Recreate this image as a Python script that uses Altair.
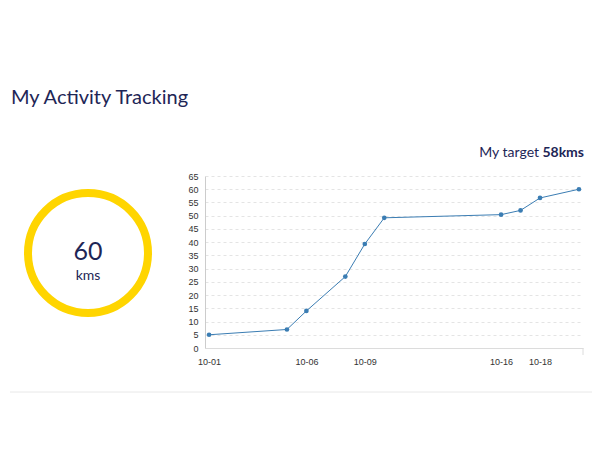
import altair as alt
import pandas as pd

# ---- data ----
dates = ["2023-10-01", "2023-10-05", "2023-10-06", "2023-10-08", "2023-10-09",
         "2023-10-10", "2023-10-16", "2023-10-17", "2023-10-18", "2023-10-20"]
kms = [5, 7, 14, 27, 39.3, 49.2, 50.4, 52, 56.7, 60]
tick_dates = ["2023-10-01", "2023-10-06", "2023-10-09", "2023-10-16", "2023-10-18"]
y_ticks = list(range(0, 70, 5))
title_text = "My Activity Tracking"
total_text = "60"
unit_text = "kms"
target_label = "My target"
target_value = "58kms"

df = pd.DataFrame({"date": dates, "kms": kms})

NAVY = "#1e2656"
YELLOW = "#FFD500"
LINE = "#3b7db3"
FONT = "Lato"


def dt(s, h=0):
    y, m, d = map(int, s.split("-"))
    return alt.DateTime(year=y, month=m, date=d, hours=h, utc=True)


x_enc = alt.X(
    "date:T",
    scale=alt.Scale(type="utc", domain=[dt("2023-09-30", 19), dt("2023-10-20", 5)]),
    axis=alt.Axis(
        title=None, values=[dt(s) for s in tick_dates], format="%m-%d",
        grid=False, ticks=False, labelPadding=9, labelFontSize=9,
        labelColor="#333", labelFont="Liberation Sans",
        domainColor="#dcdcdc", labelAngle=0,
    ),
)
y_enc = alt.Y(
    "kms:Q",
    scale=alt.Scale(domain=[0, 65], nice=False),
    axis=alt.Axis(
        title=None, values=y_ticks, ticks=False, labelPadding=7,
        labelFontSize=9, labelColor="#333", labelFont="Liberation Sans",
        domainColor="#cccccc", gridColor="#e4e4e4", gridDash=[3, 3],
    ),
)

line = alt.Chart(df).mark_line(color=LINE, strokeWidth=1).encode(x=x_enc, y=y_enc)
pts = alt.Chart(df).mark_point(color=LINE, filled=True, size=22, opacity=1).encode(x=x_enc, y=y_enc)


def label(txt, x, y, size, weight="normal", align="left", color=NAVY):
    return alt.Chart(pd.DataFrame({"t": [txt]})).mark_text(
        font=FONT, fontSize=size, fontWeight=weight, align=align,
        baseline="alphabetic", color=color,
    ).encode(x=alt.value(x), y=alt.value(y), text="t:N")


title = label(title_text, -194, -72, 20)
ring = alt.Chart(pd.DataFrame({"t": [total_text]})).mark_point(
    shape="circle", size=14400, strokeWidth=8, color=YELLOW, filled=False, opacity=1
).encode(x=alt.value(-117), y=alt.value(77))
total = label(total_text, -117, 84, 25, align="center")
unit = label(unit_text, -117, 104, 14, align="center")
tgt1 = label(target_label, 334, -19, 14, align="right")
tgt2 = label(target_value, 379, -19, 14, weight="bold", align="right")
sep = alt.Chart(pd.DataFrame({"t": [0]})).mark_rule(color="#e8e8e8", strokeWidth=1).encode(
    x=alt.value(-195), x2=alt.value(388), y=alt.value(216)
)
end_tick = alt.Chart(pd.DataFrame({"t": [0]})).mark_rule(color="#dcdcdc", strokeWidth=1).encode(
    x=alt.value(378), y=alt.value(172), y2=alt.value(179)
)

chart = alt.layer(line, pts, title, ring, total, unit, tgt1, tgt2, sep, end_tick).properties(
    width=378, height=172,
    autosize=alt.AutoSizeParams(type="none"),
    padding={"left": 197, "top": 168, "right": 9, "bottom": 94},
).configure_view(strokeWidth=0)

chart.save("out.html", embed_options={"renderer": "svg", "actions": False})
